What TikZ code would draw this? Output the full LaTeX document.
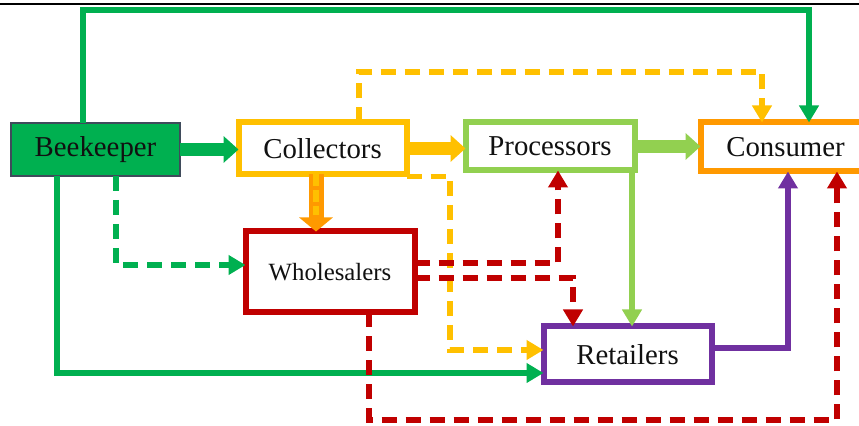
\documentclass[tikz,border=0pt]{standalone}
\usepackage{fontspec}
\setmainfont{Liberation Serif}
\usetikzlibrary{arrows.meta,calc}
\definecolor{beeGreen}{HTML}{00B050}
\definecolor{beeLine}{HTML}{3F4B5B}
\definecolor{colYellow}{HTML}{FFC000}
\definecolor{proGreen}{HTML}{92D050}
\definecolor{conOrange}{HTML}{FF9900}
\definecolor{whoRed}{HTML}{C00000}
\definecolor{retPurple}{HTML}{7030A0}
\definecolor{ink}{HTML}{111111}
\tikzset{
  % ---- actors ------------------------------------------------------
  actor/.style     = {rectangle, draw, line width=3pt, fill=white,
                      inner sep=0pt, outer sep=0pt, text=ink,
                      font=\fontsize{14.4}{16}\selectfont},
  beebox/.style    = {actor, fill=beeGreen, draw=beeLine, line width=.75pt},
  % ---- flows -------------------------------------------------------
  flow/.style      = {line width=2.6pt, -{Triangle[length=8.5pt,width=9.5pt]}},
  dflow/.style     = {flow, dash pattern=on 7.5pt off 4.5pt},
  bigflow/.style   = {line width=6.5pt, -{Triangle[length=7.5pt,width=13pt]}},
  gline/.style     = {flow, draw=beeGreen},
  gdash/.style     = {dflow, draw=beeGreen},
  ydash/.style     = {dflow, draw=colYellow},
  rdash/.style     = {dflow, draw=whoRed},
  pline/.style     = {flow, draw=retPurple},
  lgline/.style    = {flow, draw=proGreen},
  topline/.style   = {draw=black, line width=1.1pt},
}

\begin{document}
\begin{tikzpicture}[x=0.5pt, y=-0.5pt]
  \useasboundingbox (0,0) rectangle (859,426);
  \clip (0,0) rectangle (859,426);
  \draw[topline] (0,4) -- (859,4);
  % actors
  \node[beebox, minimum width=84.5pt, minimum height=26.5pt] (bee) at (95.5,149.5) {Beekeeper};
  \node[actor, draw=colYellow, minimum width=84pt, minimum height=26pt] (col) at (322.5,148.5) {Collectors};
  \node[actor, draw=proGreen, minimum width=84.5pt, minimum height=24pt] (pro) at (550,146.5) {Processors};
  \node[actor, draw=conOrange, minimum width=85pt, minimum height=24.5pt] (con) at (785.5,147) {Consumer};
  \node[actor, draw=whoRed, minimum width=84.5pt, minimum height=40.5pt,
        font=\fontsize{12.4}{14}\selectfont] (who) at (330,272) {Wholesalers};
  \node[actor, draw=retPurple, minimum width=84pt, minimum height=28pt] (ret) at (627.5,354.5) {Retailers};
  % elbows
  \coordinate (gStart) at (83,100);
  \coordinate (gTop) at (809,10);
  \coordinate (gLow) at (57,373);
  \coordinate (gMid) at (116,265);
  \coordinate (yTop) at (359,72);
  \coordinate (yTopR) at (762,72);
  \coordinate (yLow) at (450,350);
  \coordinate (cw) at (316,200);
  \coordinate (pr) at (632,250);
  \coordinate (rUp) at (558,263);
  \coordinate (rLo) at (573,278);
  \coordinate (rB1) at (369,420);
  \coordinate (rB2) at (837,420);
  \coordinate (pu) at (788,348);
  % beekeeper flows
  \draw[gline] (gStart |- bee.north) |- (gTop) -- (gTop |- con.north);
  \draw[gline] (gLow |- bee.south) -- (gLow) -- (gLow -| ret.west);
  \draw[gdash] (gMid |- bee.south) -- (gMid) -- (gMid -| who.west);
  \draw[bigflow, draw=beeGreen] (bee.east) -- (bee.east -| col.west);
  % collectors flows
  \draw[ydash] (yTop |- col.north) -- (yTop) -- (yTopR) -- (yTopR |- con.north);
  \draw[ydash] ([yshift=-1pt]col.south east) -| (yLow) -- (yLow -| ret.west);
  \draw[bigflow, draw=colYellow] (col.east) -- (col.east -| pro.west);
  \draw[line width=7.5pt, draw=conOrange, -{Triangle[length=7pt,width=16.5pt]}]
    (cw |- col.south) -- (cw |- who.north);
  \draw[line width=3pt, draw=colYellow, dash pattern=on 6pt off 2pt, shorten >=8pt]
    (cw |- col.south) -- (cw |- who.north);
  % processors flows
  \draw[bigflow, draw=proGreen] (pro.east) -- (pro.east -| con.west);
  \draw[lgline] (pr |- pro.south) -- (pr |- ret.north);
  % wholesalers flows
  \draw[rdash] (rUp -| who.east) -- (rUp) -- (rUp |- pro.south);
  \draw[rdash] (rLo -| who.east) -- (rLo) -- (rLo |- ret.north);
  \draw[rdash] (rB1 |- who.south) -- (rB1) -- (rB2) -- (rB2 |- con.south);
  % retailers flows
  \draw[pline] (pu -| ret.east) -- (pu) -- (pu |- con.south);
\end{tikzpicture}
\end{document}
